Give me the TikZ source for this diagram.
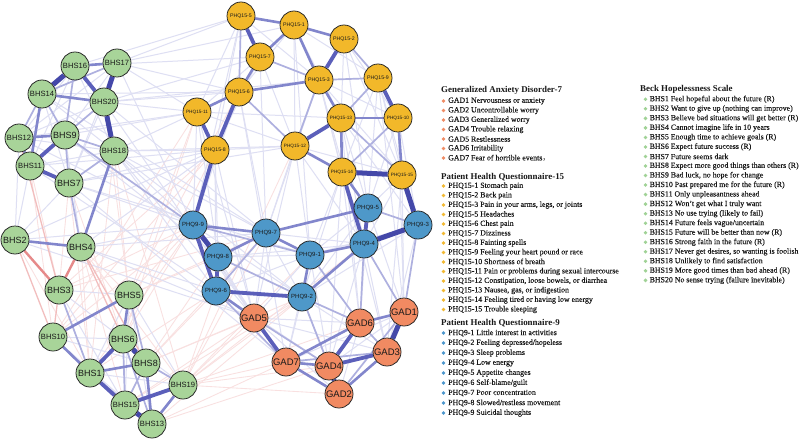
\documentclass[tikz,border=0pt]{standalone}
\usepackage{fontspec}
\setmainfont{Liberation Serif}
\newfontfamily\legfont[FakeBold=0.2]{Liberation Serif}
\newfontfamily\lsans{Liberation Sans}
\newfontfamily\cjkfont{Noto Sans CJK SC}
\pgfdeclarelayer{bg}
\pgfdeclarelayer{edges}
\pgfsetlayers{bg,edges,main}
\definecolor{cBHS}{RGB}{168,212,153}
\definecolor{cPQ}{RGB}{242,184,42}
\definecolor{cPN}{RGB}{78,152,201}
\definecolor{cGAD}{RGB}{241,138,98}
\definecolor{lBHS}{RGB}{160,210,150}
\definecolor{lPQ}{RGB}{242,185,50}
\definecolor{lPN}{RGB}{75,150,205}
\definecolor{lGAD}{RGB}{240,140,100}
\definecolor{eA}{RGB}{68,72,169}
\definecolor{eB}{RGB}{91,95,186}
\definecolor{eC}{RGB}{130,134,204}
\definecolor{eD}{RGB}{174,176,223}
\definecolor{eE}{RGB}{222,223,243}
\definecolor{rA}{RGB}{230,138,138}
\definecolor{rB}{RGB}{242,190,190}
\definecolor{rC}{RGB}{249,224,224}
\definecolor{legtext}{RGB}{25,25,25}
\tikzset{
 nd/.style={circle,draw=black!85,line width=0.75pt,minimum size=28pt,inner sep=0pt,text=black!90},
 nBHS/.style={nd,fill=cBHS}, nPQ/.style={nd,fill=cPQ}, nPN/.style={nd,fill=cPN}, nGAD/.style={nd,fill=cGAD},
 fA/.style={font=\lsans\fontsize{9}{9}\selectfont},
 fB/.style={font=\lsans\fontsize{7.6}{7.6}\selectfont},
 fG/.style={font=\lsans\fontsize{9.5}{9.5}\selectfont},
 fQ/.style={font=\lsans\fontsize{6}{6}\selectfont},
 fP/.style={font=\lsans\fontsize{5.2}{5.2}\selectfont},
 fR/.style={font=\lsans\fontsize{4.7}{4.7}\selectfont},
 ea/.style={line width=5pt,draw=eA},
 eb/.style={line width=3.8pt,draw=eB},
 ec/.style={line width=2.6pt,draw=eC},
 ed/.style={line width=1.7pt,draw=eD},
 ee/.style={line width=1pt,draw=eE},
 ra/.style={line width=2.4pt,draw=rA},
 rb/.style={line width=1.3pt,draw=rB},
 rc/.style={line width=0.85pt,draw=rC},
 leg/.style={anchor=west,inner sep=0pt,text=legtext,font=\legfont\fontsize{7.85}{9}\selectfont},
 legt/.style={anchor=west,inner sep=0pt,text=legtext,font=\bfseries\fontsize{8.9}{9}\selectfont},
}
\begin{document}
\begin{tikzpicture}[x=1pt,y=-1pt]
\begin{pgfonlayer}{bg}
\fill[white] (0,0) rectangle (800,441);
\end{pgfonlayer}
\useasboundingbox (0,0) rectangle (800,441);
% BHS nodes
\node[nBHS,fA] (b1) at (90,373) {BHS1};
\node[nBHS,fA] (b2) at (15,240) {BHS2};
\node[nBHS,fA] (b3) at (59,290) {BHS3};
\node[nBHS,fA] (b4) at (81,247) {BHS4};
\node[nBHS,fA] (b5) at (129,295) {BHS5};
\node[nBHS,fA] (b6) at (123,339) {BHS6};
\node[nBHS,fA] (b7) at (69,183) {BHS7};
\node[nBHS,fA] (b8) at (146,363) {BHS8};
\node[nBHS,fA] (b9) at (65,135) {BHS9};
\node[nBHS,fB] (b10) at (53,337) {BHS10};
\node[nBHS,fB] (b11) at (30,166) {BHS11};
\node[nBHS,fB] (b12) at (19,138) {BHS12};
\node[nBHS,fB] (b13) at (152,424) {BHS13};
\node[nBHS,fB] (b14) at (42,94) {BHS14};
\node[nBHS,fB] (b15) at (125,405) {BHS15};
\node[nBHS,fB] (b16) at (75,66) {BHS16};
\node[nBHS,fB] (b17) at (117,63) {BHS17};
\node[nBHS,fB] (b18) at (114,151) {BHS18};
\node[nBHS,fB] (b19) at (183,385) {BHS19};
\node[nBHS,fB] (b20) at (104,102) {BHS20};
% PHQ15 nodes
\node[nPQ,fP] (p1) at (294,25) {PHQ15-1};
\node[nPQ,fP] (p2) at (344,39) {PHQ15-2};
\node[nPQ,fP] (p3) at (319,80) {PHQ15-3};
\node[nPQ,fP] (p5) at (241,16) {PHQ15-5};
\node[nPQ,fP] (p6) at (239,92) {PHQ15-6};
\node[nPQ,fP] (p7) at (260,57) {PHQ15-7};
\node[nPQ,fP] (p8) at (215,150) {PHQ15-8};
\node[nPQ,fP] (p9) at (378,78) {PHQ15-9};
\node[nPQ,fR] (p10) at (398,118) {PHQ15-10};
\node[nPQ,fR] (p11) at (197,112) {PHQ15-11};
\node[nPQ,fR] (p12) at (295,146) {PHQ15-12};
\node[nPQ,fR] (p13) at (341,118) {PHQ15-13};
\node[nPQ,fR] (p14) at (342,172) {PHQ15-14};
\node[nPQ,fR] (p15) at (402,175) {PHQ15-15};
% PHQ9 nodes
\node[nPN,fQ] (q1) at (310,255) {PHQ9-1};
\node[nPN,fQ] (q2) at (302,297) {PHQ9-2};
\node[nPN,fQ] (q3) at (418,225) {PHQ9-3};
\node[nPN,fQ] (q4) at (364,244) {PHQ9-4};
\node[nPN,fQ] (q5) at (368,208) {PHQ9-5};
\node[nPN,fQ] (q6) at (216,291) {PHQ9-6};
\node[nPN,fQ] (q7) at (266,233) {PHQ9-7};
\node[nPN,fQ] (q8) at (218,257) {PHQ9-8};
\node[nPN,fQ] (q9) at (193,225) {PHQ9-9};
% GAD nodes
\node[nGAD,fG] (g1) at (404,312) {GAD1};
\node[nGAD,fG] (g2) at (339,394) {GAD2};
\node[nGAD,fG] (g3) at (387,352) {GAD3};
\node[nGAD,fG] (g4) at (329,366) {GAD4};
\node[nGAD,fG] (g5) at (254,318) {GAD5};
\node[nGAD,fG] (g6) at (360,323) {GAD6};
\node[nGAD,fG] (g7) at (286,362) {GAD7};
\begin{pgfonlayer}{edges}
% faint red
\foreach \a/\b in {b1/b2,b1/b4,b1/b7,b3/b11,b3/b7,b10/b11,b5/b4,b5/b18,b5/b20,b15/b4,b19/b4,b19/b18,b6/b7,b1/b18,b19/g7,b19/g4,b19/g2,b19/q2,b19/q1,b19/q6,b19/g5,b13/g7,b15/g5,b8/q6,b6/q9,b5/q9,b5/q8,b1/q6,b3/q9,b3/q7,b10/q9,b3/p8,b10/p8,b5/p11,b6/p8,b13/q2,b15/q2,b8/g5,b5/q7,b19/q7,b8/q8,b13/g4,b6/p11,b5/p6,b19/p12,b8/q2,b1/q9,b10/p11,b19/q4,b19/g6,b8/q7}
  \draw[rc] (\a) -- (\b);
% faint blue
\foreach \a/\b in {b17/p5,b17/p6,b17/p11,b16/p7,b20/p11,b20/p6,b18/p11,b18/p8,b14/p6,b9/p11,b7/p8,b12/p11,b11/p8,b2/p8,b4/p8,b20/p3,b18/p12,b7/p12,
 b18/q9,b18/q6,b18/q7,b7/q9,b4/q9,b4/q6,b2/q9,b20/q7,b9/q8,b11/q6,b14/q7,b12/q9,b17/q9,b18/q2,b4/q7,b7/q1,
 b18/g5,b4/g5,b7/g7,b20/g5,b2/g5,b17/p1,b16/p5,b20/p7,
 p11/q9,p6/q9,p6/q7,p7/q7,p3/q7,p12/q7,p12/q1,p12/q4,p3/q4,p13/q4,p13/q5,p10/q5,p10/q3,p9/q3,p15/q5,p14/q1,p14/q2,p8/q8,p8/q6,p11/q8,p5/q9,p1/q1,p2/q5,p9/q5,p13/q3,p15/q4,
 p14/g6,p15/g1,p10/g1,p12/g5,p8/g5,p13/g6,p11/g5,p3/g3,p9/g1,p14/g4,p15/g3,p6/g7,
 q1/g5,q1/g4,q4/g4,q4/g3,q3/g3,q5/g1,q7/g5,q8/g5,q9/g5,q9/g7,q2/g7,q2/g3,q6/g4,q2/g2,q1/g7,q5/g6,
 p5/p3,p5/p11,p5/p8,p1/p6,p1/p13,p1/p9,p2/p13,p2/p10,p2/p15,p7/p11,p7/p8,p7/p12,p11/p12,p3/p10,p3/p14,p9/p14,p9/p15,p12/p15,p8/p12,p1/p12,p3/p15,p11/p13,
 q9/q2,q8/q1,q7/q2,q7/q4,q6/q1,q1/q5,q1/q3,q2/q5,q2/q3,q8/q4,
 g5/g2,g5/g6,g6/g2,g1/g4,g7/g1,g5/g3,
 b17/b9,b17/b12,b16/b12,b16/b11,b20/b12,b20/b11,b20/b7,b18/b12,b18/b11,b14/b7,b12/b7,b9/b4,b7/b2,b11/b2,b12/b2,b16/b18,b17/b7,b14/b18,
 b5/b1,b5/b15,b5/b19,b5/b13,b6/b19,b10/b15,b10/b6,b10/b8,b3/b5,b3/b6,b1/b19,b10/b13,b3/b15}
  \draw[ee] (\a) -- (\b);
% light red
\foreach \a/\b in {b4/b8,b4/b6,b3/b10,b2/b10,b3/b12}
  \draw[rb] (\a) -- (\b);
% light blue
\foreach \a/\b in {b14/b12,b9/b7,b14/b9,b17/b14,b20/b9,b18/b7,b16/b9,b3/b1,b6/b13,b1/b13,b8/b15,b19/b8,b6/b15,b5/b8,b7/b4,b18/b9,b9/q9,
 p3/p9,p13/p15,p2/p9,p12/p3,p7/p3,p5/p6,p10/p14,p9/p13,p12/p6,
 q5/q3,q7/q6,q8/q2,q2/g6,q2/g4,q4/g6,q4/g1,q3/g1,g1/g2,g5/g4,g6/g3,g7/g3,q9/q1,q6/g7,q1/g6}
  \draw[ed] (\a) -- (\b);
% medium red
\foreach \a/\b in {b2/b3,b4/b3}
  \draw[ra] (\a) -- (\b);
% medium blue
\foreach \a/\b in {b14/b11,b12/b9,b12/b11,b14/b20,b16/b17,b2/b4,b18/b4,b5/b6,b1/b8,b19/b13,b8/b13,b5/b10,b1/b10,
 p5/p1,p1/p2,p1/p3,p7/p6,p7/p1,p6/p3,p6/p11,p3/p13,p13/p10,p13/p14,p12/p14,p10/p15,
 q9/q7,q7/q1,q7/q8,q1/q2,q1/q4,q2/q4,q7/q5,q6/g5,g1/g6,g7/g4,g7/g2,g3/g2,g7/g6,q5/p14}
  \draw[ec] (\a) -- (\b);
% thick blue
\foreach \a/\b in {b11/b7,b16/b20,b6/b1,b1/b15,b15/b19,b9/b11,p5/p7,p2/p3,p6/p8,p11/p8,p9/p10,p13/p12,p14/q4,p8/q9,q9/q6,q8/q6,q6/q2,q5/q4,g6/g4,g5/g7,g4/g3}
  \draw[eb] (\a) -- (\b);
% very thick blue
\foreach \a/\b in {b16/b14,b15/b13,b6/b8,g1/g3,g4/g2,q9/q8,p14/p15,p15/q3,q4/q3,b17/b20,b20/b18}
  \draw[ea] (\a) -- (\b);
\end{pgfonlayer}
% Legend
\node[legt] (tG) at (441,90) {Generalized Anxiety Disorder-7};
\foreach \t [count=\i] in {{GAD1 Nervousness or anxiety},{GAD2 Uncontrollable worry},{GAD3 Generalized worry},{GAD4 Trouble relaxing},{GAD5 Restlessness},{GAD6 Irritability},{GAD7 Fear of horrible events{\cjkfont ，}}}
{
  \fill[lGAD] (443.5,{101+9.5*(\i-1)}) circle (1.9pt);
  \node[leg] (lg\i) at (448,{101+9.5*(\i-1)}) {\t};
}
\node[legt] (tP) at (441,177) {Patient Health Questionnaire-15};
\foreach \t [count=\i] in {{PHQ15-1 Stomach pain},{PHQ15-2 Back pain},{PHQ15-3 Pain in your arms, legs, or joints},{PHQ15-5 Headaches},{PHQ15-6 Chest pain},{PHQ15-7 Dizziness},{PHQ15-8 Fainting spells},{PHQ15-9 Feeling your heart pound or race},{PHQ15-10 Shortness of breath},{PHQ15-11 Pain or problems during sexual intercourse},{PHQ15-12 Constipation, loose bowels, or diarrhea},{PHQ15-13 Nausea, gas, or indigestion},{PHQ15-14 Feeling tired or having low energy},{PHQ15-15 Trouble sleeping}}
{
  \fill[lPQ] (443.5,{186+9.5*(\i-1)}) circle (1.9pt);
  \node[leg] (lp\i) at (448,{186+9.5*(\i-1)}) {\t};
}
\node[legt] (tQ) at (441,323) {Patient Health Questionnaire-9};
\foreach \t [count=\i] in {{PHQ9-1 Little interest in activities},{PHQ9-2 Feeling depressed/hopeless},{PHQ9-3 Sleep problems},{PHQ9-4 Low energy},{PHQ9-5 Appetite changes},{PHQ9-6 Self-blame/guilt},{PHQ9-7 Poor concentration},{PHQ9-8 Slowed/restless movement},{PHQ9-9 Suicidal thoughts}}
{
  \fill[lPN] (443.5,{333+10*(\i-1)}) circle (1.9pt);
  \node[leg] (lq\i) at (448,{333+10*(\i-1)}) {\t};
}
\node[legt] (tB) at (640,89) {Beck Hopelessness Scale};
\foreach \t [count=\i] in {{BHS1 Feel hopeful about the future (R)},{BHS2 Want to give up (nothing can improve)},{BHS3 Believe bad situations will get better (R)},{BHS4 Cannot imagine life in 10 years},{BHS5 Enough time to achieve goals (R)},{BHS6 Expect future success (R)},{BHS7 Future seems dark},{BHS8 Expect more good things than others (R)},{BHS9 Bad luck, no hope for change},{BHS10 Past prepared me for the future (R)},{BHS11 Only unpleasantness ahead},{BHS12 Won’t get what I truly want},{BHS13 No use trying (likely to fail)},{BHS14 Future feels vague/uncertain},{BHS15 Future will be better than now (R)},{BHS16 Strong faith in the future (R)},{BHS17 Never get desires, so wanting is foolish},{BHS18 Unlikely to find satisfaction},{BHS19 More good times than bad ahead (R)},{BHS20 No sense trying (failure inevitable)}}
{
  \fill[lBHS] (645.5,{99.3+9.53*(\i-1)}) circle (1.9pt);
  \node[leg] (lb\i) at (649.5,{99.3+9.53*(\i-1)}) {\t};
}
\end{tikzpicture}
\end{document}
